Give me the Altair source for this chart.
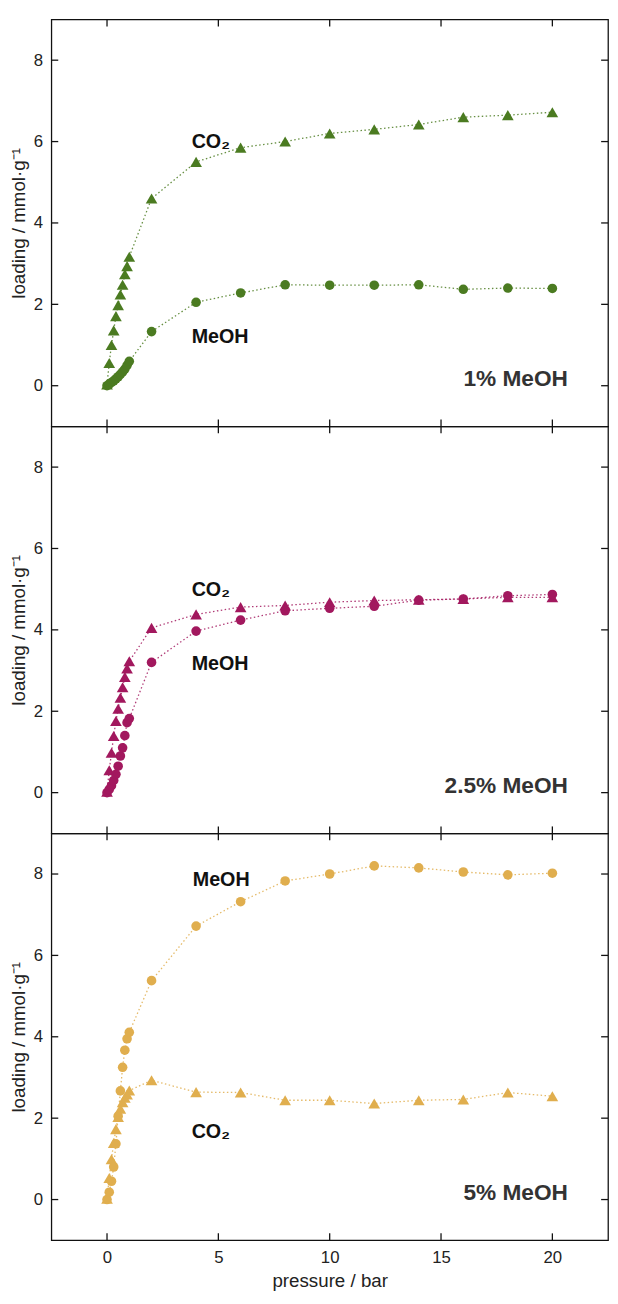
import altair as alt
import pandas as pd

# ---- data ----
pressure = [0, 0.1, 0.2, 0.3, 0.4, 0.5, 0.6, 0.7, 0.8, 0.9, 1.0,
            2, 4, 6, 8, 10, 12, 14, 16, 18, 20]

co2_1 = [0.03, 0.56, 1.0, 1.36, 1.71, 1.98, 2.24, 2.48, 2.74, 2.94, 3.17,
         4.6, 5.5, 5.85, 6.0, 6.2, 6.3, 6.42, 6.6, 6.65, 6.72]
meoh_1 = [0.0, 0.04, 0.08, 0.12, 0.17, 0.22, 0.28, 0.34, 0.41, 0.5, 0.6,
          1.33, 2.05, 2.28, 2.48, 2.47, 2.47, 2.48, 2.37, 2.40, 2.39]

co2_25 = [0.02, 0.55, 0.98, 1.39, 1.76, 2.06, 2.33, 2.59, 2.84, 3.05, 3.23,
          4.05, 4.38, 4.56, 4.6, 4.68, 4.72, 4.74, 4.76, 4.8, 4.8]
meoh_25 = [0.0, 0.08, 0.17, 0.3, 0.45, 0.65, 0.9, 1.1, 1.4, 1.72, 1.82,
           3.2, 3.97, 4.24, 4.47, 4.53, 4.58, 4.73, 4.76, 4.84, 4.87]

co2_5 = [0.02, 0.53, 0.99, 1.39, 1.73, 2.03, 2.23, 2.39, 2.5, 2.58, 2.68,
         2.93, 2.64, 2.63, 2.44, 2.44, 2.36, 2.44, 2.46, 2.63, 2.54]
meoh_5 = [0.0, 0.18, 0.45, 0.8, 1.37, 2.05, 2.67, 3.25, 3.67, 3.95, 4.11,
          5.38, 6.72, 7.32, 7.83, 8.0, 8.2, 8.15, 8.05, 7.98, 8.02]

panel_names = ["1% MeOH", "2.5% MeOH", "5% MeOH"]
panel_colors = ["#4B7B21", "#A2185E", "#E0AE4E"]

# in-plot species labels (text, x, y) per panel
lab_text = [["CO₂", "MeOH"], ["CO₂", "MeOH"], ["MeOH", "CO₂"]]
lab_x = [[3.8, 3.8], [3.8, 3.8], [3.85, 3.8]]
lab_y = [[5.98, 1.2], [4.98, 3.17], [7.84, 1.65]]

x_ticks = [0, 5, 10, 15, 20]
y_ticks = [0, 2, 4, 6, 8]

W, H = 565, 413
FONT = "Liberation Sans"

xs = alt.Scale(domain=[-2.5, 22.5], nice=False, zero=False)
ys = alt.Scale(domain=[-1, 9], nice=False, zero=False)


def panel(co2, meoh, name, color, ltxt, lx, ly, bottom):
    df = pd.DataFrame({
        "pressure": pressure * 2,
        "loading": co2 + meoh,
        "species": ["CO2"] * len(co2) + ["MeOH"] * len(meoh),
    })
    if bottom:
        xaxis = alt.Axis(values=x_ticks, ticks=False, domain=False, grid=False,
                         labelFontSize=17, labelPadding=10, labelColor="#222",
                         title="pressure / bar", titleFontSize=19,
                         titleFontWeight="normal", titlePadding=6, titleColor="#222")
    else:
        xaxis = None
    yaxis = alt.Axis(values=y_ticks, ticks=False, domain=False, grid=False,
                     labelFontSize=17, labelPadding=9, labelColor="#222",
                     title="loading / mmol·g⁻¹", titleFontSize=19,
                     titleFontWeight="normal", titlePadding=5, titleColor="#222")

    base = alt.Chart(df)
    lines = base.mark_line(strokeDash=[1.5, 2.5], strokeWidth=1.3, opacity=0.85).encode(
        x=alt.X("pressure:Q", scale=xs, axis=xaxis),
        y=alt.Y("loading:Q", scale=ys, axis=yaxis),
        detail="species:N",
        color=alt.value(color),
    )
    pts = base.mark_point(filled=True, opacity=1).encode(
        x=alt.X("pressure:Q", scale=xs),
        y=alt.Y("loading:Q", scale=ys),
        shape=alt.Shape("species:N",
                        scale=alt.Scale(domain=["CO2", "MeOH"],
                                        range=["triangle-up", "circle"]),
                        legend=None),
        size=alt.Size("species:N",
                      scale=alt.Scale(domain=["CO2", "MeOH"], range=[140, 95]),
                      legend=None),
        color=alt.value(color),
    )
    ldf = pd.DataFrame({"t": ltxt, "x": lx, "y": ly})
    labels = alt.Chart(ldf).mark_text(align="left", baseline="middle",
                                      fontWeight="bold", fontSize=20,
                                      color="#111", font=FONT).encode(
        x=alt.X("x:Q", scale=xs), y=alt.Y("y:Q", scale=ys), text="t:N")
    ndf = pd.DataFrame({"t": [name], "x": [20.7], "y": [0.17]})
    ptitle = alt.Chart(ndf).mark_text(align="right", baseline="middle",
                                      fontWeight="bold", fontSize=23,
                                      color="#333", font=FONT).encode(
        x=alt.X("x:Q", scale=xs), y=alt.Y("y:Q", scale=ys), text="t:N")

    xt = pd.DataFrame({"v": x_ticks})
    yt = pd.DataFrame({"v": y_ticks})
    tick_style = dict(color="#111", strokeWidth=1.3)
    xt_top = alt.Chart(xt).mark_rule(**tick_style).encode(
        x=alt.X("v:Q", scale=xs), y=alt.value(0), y2=alt.value(7))
    xt_bot = alt.Chart(xt).mark_rule(**tick_style).encode(
        x=alt.X("v:Q", scale=xs), y=alt.value(H - 7), y2=alt.value(H))
    yt_left = alt.Chart(yt).mark_rule(**tick_style).encode(
        y=alt.Y("v:Q", scale=ys), x=alt.value(0), x2=alt.value(7))
    yt_right = alt.Chart(yt).mark_rule(**tick_style).encode(
        y=alt.Y("v:Q", scale=ys), x=alt.value(W - 7), x2=alt.value(W))

    return alt.layer(lines, pts, labels, ptitle, xt_top, xt_bot, yt_left, yt_right).properties(
        width=W, height=H)


p1 = panel(co2_1, meoh_1, panel_names[0], panel_colors[0], lab_text[0], lab_x[0], lab_y[0], False)
p2 = panel(co2_25, meoh_25, panel_names[1], panel_colors[1], lab_text[1], lab_x[1], lab_y[1], False)
p3 = panel(co2_5, meoh_5, panel_names[2], panel_colors[2], lab_text[2], lab_x[2], lab_y[2], True)

chart = alt.vconcat(p1, p2, p3, spacing=0, bounds="flush").resolve_scale(
    shape="independent", size="independent").configure(
    font=FONT, padding=0
).configure_view(stroke="#111", strokeWidth=1.3)

chart.save("out.html", embed_options={"renderer": "svg", "actions": False})
